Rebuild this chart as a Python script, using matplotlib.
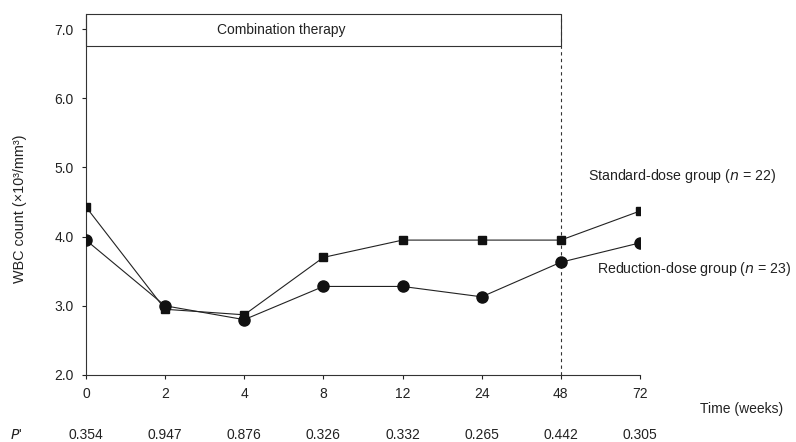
import matplotlib.pyplot as plt
from matplotlib.patches import Rectangle

plt.rcParams['font.family'] = ['Liberation Sans', 'DejaVu Sans']

# Данні з графіку
weeks = ["0", "2", "4", "8", "12", "24", "48", "72"]
standard_dose = [4.43, 2.95, 2.87, 3.70, 3.95, 3.95, 3.95, 4.37]
reduction_dose = [3.95, 3.00, 2.80, 3.28, 3.28, 3.13, 3.63, 3.91]
p_values = ["0.354", "0.947", "0.876", "0.326", "0.332", "0.265", "0.442", "0.305"]
y_ticks = [2.0, 3.0, 4.0, 5.0, 6.0, 7.0]

pos = list(range(len(weeks)))

fig = plt.figure(figsize=(7.96, 4.42), dpi=100)
ax = fig.add_axes([0.108, 0.1516, 0.696, 0.817])

ax.plot(pos, standard_dose, color='#222222', lw=0.8, marker='s', ms=6,
        mfc='#111111', mec='#111111', zorder=3)
ax.plot(pos, reduction_dose, color='#222222', lw=0.8, marker='o', ms=8,
        mfc='#111111', mec='#111111', zorder=3)

# Блок "Combination therapy"
ax.add_patch(Rectangle((0, 6.75), 6, 0.47, fill=False, ec='#333333', lw=0.8,
                       clip_on=False))
ax.text(2.47, 6.98, "Combination therapy", ha='center', va='center', fontsize=10,
        color='#222222')

# Вертикальна лінія на 48 тижні
ax.plot([6, 6], [2.0, 7.22], color='#333333', lw=0.8, ls=(0, (3, 3)), zorder=2)

ax.set_xlim(0, 7)
ax.set_ylim(2.0, 7.22)
ax.set_xticks(pos)
ax.set_xticklabels(weeks)
ax.set_yticks(y_ticks)
ax.set_yticklabels([f"{v:.1f}" for v in y_ticks])
ax.tick_params(labelsize=10, length=3, width=0.8, colors='#222222', pad=6)
for s in ['top', 'right']:
    ax.spines[s].set_visible(False)
for s in ['left', 'bottom']:
    ax.spines[s].set_color('#333333')
    ax.spines[s].set_linewidth(0.8)

ax.set_ylabel("WBC count (×10³/mm³)", fontsize=10.4, color='#222222')
ax.yaxis.set_label_coords(-0.1065, 0.46)

# Підписи груп
ax.text(6.34, 4.88, "Standard-dose group ($n$ = 22)", fontsize=10.2, color='#222222',
        va='center', clip_on=False)
ax.text(6.46, 3.53, "Reduction-dose group ($n$ = 23)", fontsize=10.2, color='#222222',
        va='center', clip_on=False)

# Час і P-значення
fig.text(700 / 796, 1 - 409 / 442, "Time (weeks)", fontsize=10, color='#222222',
         va='center')
fig.text(10 / 796, 1 - 435 / 442, "$P$'", fontsize=10, color='#222222', va='center')
for i, p in enumerate(p_values):
    xd = ax.transData.transform((i, 0))[0] / fig.bbox.width
    fig.text(xd, 1 - 435 / 442, p, fontsize=10, color='#222222', ha='center',
             va='center')

fig.savefig("out.png", dpi=100)
